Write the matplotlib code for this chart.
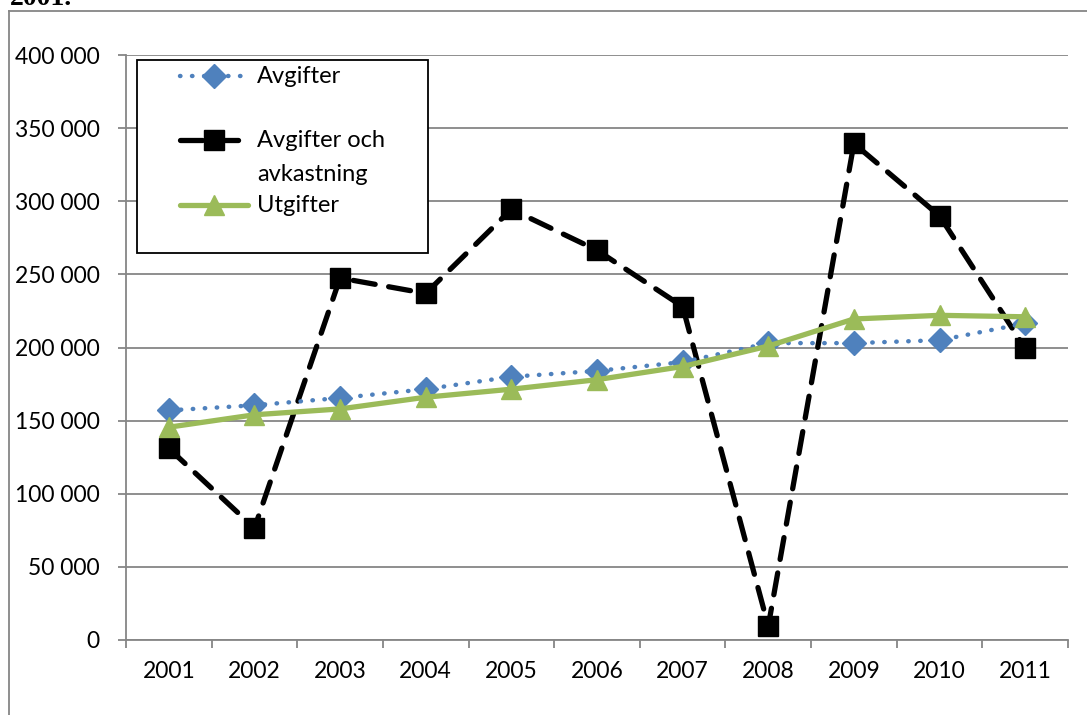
import matplotlib
matplotlib.use("Agg")
import matplotlib.pyplot as plt
from matplotlib.lines import Line2D
from matplotlib.patches import Rectangle
from matplotlib.ticker import FuncFormatter

# Data (values in SEK)
years = ['2001', '2002', '2003', '2004', '2005', '2006',
         '2007', '2008', '2009', '2010', '2011']
avgifter = [157000, 160500, 165500, 171500, 180000, 184000,
            190000, 203000, 203000, 205000, 216500]
avgifter_avkastning = [131000, 76500, 247500, 237000, 294500, 266500,
                       228000, 9500, 339500, 290000, 199500]
utgifter = [145500, 154000, 158000, 166000, 171500, 178000,
            187000, 201000, 219500, 222000, 221000]

BLUE = '#4F81BD'
GREEN = '#9BBB59'
GRID = '#868686'
FONT = 'Lato'
FS = 16.5

W, H = 1087, 715


def fx(x):
    return x / W


def fy(y):
    return 1 - y / H


plt.rcParams['font.family'] = [FONT, 'DejaVu Sans']

fig = plt.figure(figsize=(W / 100, H / 100), dpi=100)
ax = fig.add_axes([fx(126), fy(640), fx(1068) - fx(126), fy(55) - fy(640)])

x = list(range(len(years)))

blue_style = dict(color=BLUE, lw=3.2, dashes=(0.1, 2.6), dash_capstyle='round',
                  marker='D', ms=12.5, mfc=BLUE, mec=BLUE)
black_style = dict(color='black', lw=3.8, dashes=(4.2, 2.6), dash_capstyle='round',
                   marker='s', ms=14, mfc='black', mec='black')
green_style = dict(color=GREEN, lw=3.8, solid_capstyle='round',
                   marker='^', ms=14, mfc=GREEN, mec=GREEN)

ax.plot(x, avgifter_avkastning, zorder=3, **black_style)
ax.plot(x, avgifter, zorder=4, **blue_style)
ax.plot(x, utgifter, zorder=5, **green_style)

ax.set_xlim(-0.5, len(years) - 0.5)
ax.set_ylim(0, 400000)
ax.set_yticks(range(0, 400001, 50000))
ax.yaxis.set_major_formatter(FuncFormatter(lambda v, p: f"{int(v):,}".replace(',', ' ')))
ax.grid(axis='y', color=GRID, lw=1.3)
ax.set_axisbelow(True)

# category boundaries as ticks, labels centred between them
ax.set_xticks([i - 0.5 for i in range(len(years) + 1)])
ax.set_xticklabels([])
ax.set_xticks(x, minor=True)
ax.set_xticklabels(years, minor=True)
ax.tick_params(axis='x', which='major', length=6, width=1.3, color=GRID, direction='out')
ax.tick_params(axis='x', which='minor', length=0, pad=15, labelsize=FS)
ax.tick_params(axis='y', length=6, width=1.3, color=GRID, pad=13, labelsize=FS)

for s in ['top', 'right']:
    ax.spines[s].set_visible(False)
for s in ['left', 'bottom']:
    ax.spines[s].set_color(GRID)
    ax.spines[s].set_linewidth(1.3)

# outer frame of the chart (cut by the page)
fig.add_artist(Line2D([fx(9), fx(9)], [fy(11), 0], color=GRID, lw=1.3))
fig.add_artist(Line2D([fx(9), 1], [fy(11), fy(11)], color=GRID, lw=1.3))

# heading above, mostly cut off
fig.text(fx(10), fy(5), '2001.', family='Liberation Serif', weight='bold',
         fontsize=20, va='baseline', ha='left')

# legend drawn by hand to match the layout
fig.add_artist(Rectangle((fx(137), fy(253)), fx(428) - fx(137), fy(60) - fy(253),
                         transform=fig.transFigure, facecolor='white',
                         edgecolor='black', lw=1.3, zorder=6))
entries = [
    (76, blue_style, 'Avgifter'),
    (140, black_style, 'Avgifter och\navkastning'),
    (205, green_style, 'Utgifter'),
]
for yy, style, label in entries:
    st = dict(style)
    mk = st.pop('marker')
    ms = st.pop('ms')
    mfc = st.pop('mfc')
    mec = st.pop('mec')
    fig.add_artist(Line2D([fx(180), fx(248)], [fy(yy), fy(yy)], zorder=7, **st))
    fig.add_artist(Line2D([fx(214)], [fy(yy)], marker=mk, ms=ms, mfc=mfc, mec=mec,
                          ls='none', zorder=8))
    fig.text(fx(257), fy(yy - 10), label, fontsize=FS + 0.5, va='top', ha='left',
             linespacing=1.75, zorder=8)

fig.savefig('out.png', dpi=100)
